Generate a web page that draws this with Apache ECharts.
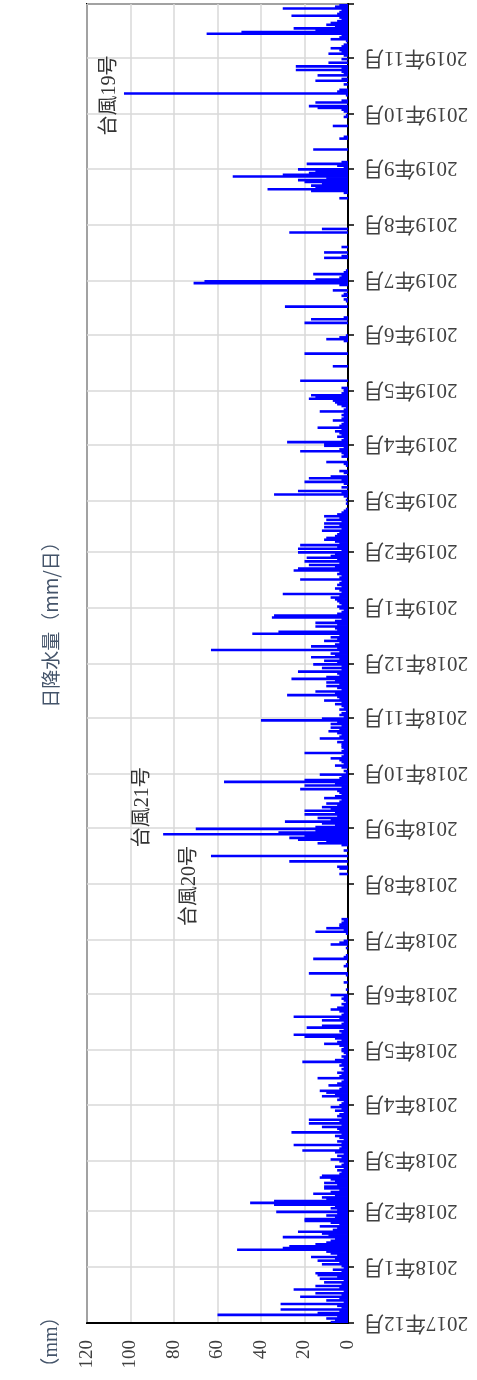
<!DOCTYPE html>
<html>
<head>
<meta charset="utf-8">
<script src="https://cdn.jsdelivr.net/npm/echarts@6/dist/echarts.min.js"></script>
<style>
html,body{margin:0;padding:0;background:#fff;}
#c{width:477px;height:1380px;}
</style>
</head>
<body>
<div id="c"></div>
<script>
// ---- Daily rainfall (mm/day), one array per month ----
const rain_2017_12 = [8,6,10,5,60,14,4,31,3,5,31,2,10,4,22,3,15,2,25,4,15,3,11,2,13,5,14,15,3,7,2];
const rain_2018_01 = [3,12,4,14,6,17,5,8,10,51,30,27,15,10,8,6,30,9,12,23,7,5,13,4,8,20,20,6,10,5,33];
const rain_2018_02 = [5,8,6,34,45,34,10,12,6,16,8,4,11,11,5,11,6,8,13,12,4,3,5,2,6,3,2,4];
const rain_2018_03 = [8,3,5,2,6,21,4,3,25,3,5,2,4,6,3,26,4,5,12,3,18,4,18,3,5,4,2,6,3,8,4];
const rain_2018_04 = [3,2,5,4,12,6,10,13,4,3,9,5,3,2,14,4,3,5,2,3,2,4,3,21,6,2,3,1,2,3];
const rain_2018_05 = [3,2,4,11,5,3,6,20,25,3,4,2,19,12,3,2,12,4,25,3,2,4,8,5,2,3,1,2,3,2,8];
const rain_2018_06 = [0,0,1,0,0,0,2,0,0,0,1,18,0,0,0,2,1,0,0,16,2,1,0,0,0,1,0,8,4,2];
const rain_2018_07 = [0,0,0,1,15,2,10,4,4,3,2,3,0,0,0,0,0,0,0,0,0,0,0,0,0,0,0,0,0,0,0];
const rain_2018_08 = [0,0,0,0,0,4,0,0,4,5,0,0,27,0,0,63,0,0,2,0,0,3,14,10,23,27,20,85,32,15,70];
const rain_2018_09 = [15,6,12,29,8,14,5,20,6,20,8,12,5,10,4,3,11,6,3,4,5,22,3,20,6,57,20,4,3,13];
const rain_2018_10 = [1,2,0,3,6,2,3,4,8,3,2,20,3,2,3,3,3,5,2,13,4,3,5,9,4,8,3,8,5,40,12];
const rain_2018_11 = [2,4,3,1,4,2,3,6,3,11,4,5,28,6,15,3,5,10,4,10,6,26,10,4,5,23,3,12,3,16];
const rain_2018_12 = [5,11,4,17,6,8,4,63,5,17,6,4,11,5,8,4,44,32,5,6,15,5,15,6,3,35,34,5,3,2,4];
const rain_2019_01 = [5,3,4,5,6,8,4,30,3,4,6,3,5,4,3,22,4,3,5,4,25,23,6,18,4,20,5,19,8,6,23];
const rain_2019_02 = [3,23,5,22,4,6,11,10,6,5,4,12,3,11,4,11,3,10,4,11,5,3,2,1,0,0,1,0];
const rain_2019_03 = [1,0,2,34,3,23,0,3,0,2,20,3,18,8,0,2,4,0,0,1,2,10,0,0,3,2,3,22,4,2,11];
const rain_2019_04 = [11,28,3,2,5,3,4,6,3,14,4,3,2,7,3,2,3,2,13,2,1,3,5,6,7,18,15,17,3,2];
const rain_2019_05 = [2,3,0,0,0,22,0,0,0,0,0,0,0,7,0,0,0,0,0,0,20,0,0,0,0,0,0,2,10,4,1];
const rain_2019_06 = [0,0,0,0,0,0,20,0,17,2,0,0,0,0,0,29,0,0,1,2,0,3,2,0,7,0,0,4,71,66];
const rain_2019_07 = [15,4,3,16,2,1,0,0,0,0,0,0,11,3,0,11,0,0,3,0,0,0,0,0,0,0,27,0,12,0,0];
const rain_2019_08 = [0,0,0,0,0,0,0,0,0,0,0,0,0,0,4,0,0,2,17,37,15,17,12,20,23,10,53,30,18,15,23];
const rain_2019_09 = [2,5,19,3,0,0,0,0,0,0,16,0,0,0,0,0,4,2,0,0,0,0,0,7,0,0,0,0,2,1];
const rain_2019_10 = [0,2,3,14,18,0,15,3,0,0,1,103,5,4,0,0,2,0,15,3,0,14,2,3,24,3,24,0,9,0,3];
const rain_2019_11 = [0,2,9,3,4,8,3,2,0,1,8,4,3,65,49,15,25,6,10,8,5,3,4,26,5,4,3,30,6,4];

const monthKeys = ['2017-12','2018-01','2018-02','2018-03','2018-04','2018-05','2018-06','2018-07',
  '2018-08','2018-09','2018-10','2018-11','2018-12','2019-01','2019-02','2019-03','2019-04','2019-05',
  '2019-06','2019-07','2019-08','2019-09','2019-10','2019-11'];
const monthRain = [rain_2017_12,rain_2018_01,rain_2018_02,rain_2018_03,rain_2018_04,rain_2018_05,
  rain_2018_06,rain_2018_07,rain_2018_08,rain_2018_09,rain_2018_10,rain_2018_11,rain_2018_12,
  rain_2019_01,rain_2019_02,rain_2019_03,rain_2019_04,rain_2019_05,rain_2019_06,rain_2019_07,
  rain_2019_08,rain_2019_09,rain_2019_10,rain_2019_11];

const valueAxisMin = 0, valueAxisMax = 120, valueAxisStep = 20;
const axisTitle = '日降水量（mm/日）';
const unitLabel = '（mm）';

// Typhoon annotations (label text and the day of the bar it refers to)
const typhoonNames = ['台風19号', '台風21号', '台風20号'];
const typhoonDates = ['2019-10-12', '2018-08-28', '2018-08-16'];

// ---- build categories + values ----
const dates = [], rain = [];
monthKeys.forEach((k, mi) => {
  monthRain[mi].forEach((v, i) => {
    dates.push(k + '-' + String(i + 1).padStart(2, '0'));
    rain.push(v);
  });
});
const isMonthStart = (idx, val) => val.slice(8) === '01';

const serifFont = '"Liberation Serif","Noto Sans CJK JP",serif';
const chart = echarts.init(document.getElementById('c'));
chart.setOption({
  animation: false,
  grid: { left: 87, right: 129, top: 4, bottom: 57, show: true, borderColor: '#000', borderWidth: 2 },
  xAxis: {
    type: 'value', inverse: true, min: valueAxisMin, max: valueAxisMax, interval: valueAxisStep,
    position: 'bottom',
    axisLine: { show: true, lineStyle: { color: '#000', width: 2 } },
    axisTick: { show: false },
    axisLabel: { rotate: 90, margin: 17, fontSize: 19, color: '#404040', fontFamily: serifFont },
    splitLine: { show: true, lineStyle: { color: '#d9d9d9', width: 1.5 } }
  },
  yAxis: {
    type: 'category', data: dates, position: 'right', boundaryGap: true,
    axisLine: { show: true, lineStyle: { color: '#000', width: 2 } },
    axisTick: { show: true, interval: isMonthStart, length: 6, lineStyle: { color: '#000', width: 1.5 } },
    axisLabel: {
      interval: isMonthStart, rotate: 180, margin: 15, fontSize: 21, color: '#404040', fontFamily: serifFont,
      formatter: v => { const p = v.split('-'); return p[0] + '年' + (+p[1]) + '月'; }
    },
    splitLine: { show: true, interval: isMonthStart, lineStyle: { color: '#d9d9d9', width: 1.5 } }
  },
  series: [{
    type: 'bar', data: rain, barWidth: 2.6, silent: true,
    itemStyle: { color: '#0000ff' }
  }]
});

// annotations placed from the library's own coordinate conversion
const annOffsets = [[-14, 2], [-20, -27], [-21, 30]];
const graphics = [];
typhoonNames.forEach((name, i) => {
  const idx = dates.indexOf(typhoonDates[i]);
  const p = chart.convertToPixel({ gridIndex: 0 }, [rain[idx], typhoonDates[i]]);
  graphics.push({
    type: 'text', x: p[0] + annOffsets[i][0], y: p[1] + annOffsets[i][1], rotation: Math.PI / 2,
    style: { text: name, fontSize: 20, fontFamily: serifFont, fill: '#333', align: 'center', verticalAlign: 'middle' }
  });
});
graphics.push({
  type: 'text', x: 51, y: 620, rotation: Math.PI / 2,
  style: { text: axisTitle, fontSize: 19, fontFamily: '"Noto Sans CJK JP",sans-serif', fill: '#44546A', align: 'center', verticalAlign: 'middle' }
});
graphics.push({
  type: 'text', x: 52, y: 1342, rotation: Math.PI / 2,
  style: { text: unitLabel, fontSize: 20, fontFamily: serifFont, fill: '#44546A', align: 'center', verticalAlign: 'middle' }
});
chart.setOption({ graphic: graphics });
</script>
</body>
</html>
